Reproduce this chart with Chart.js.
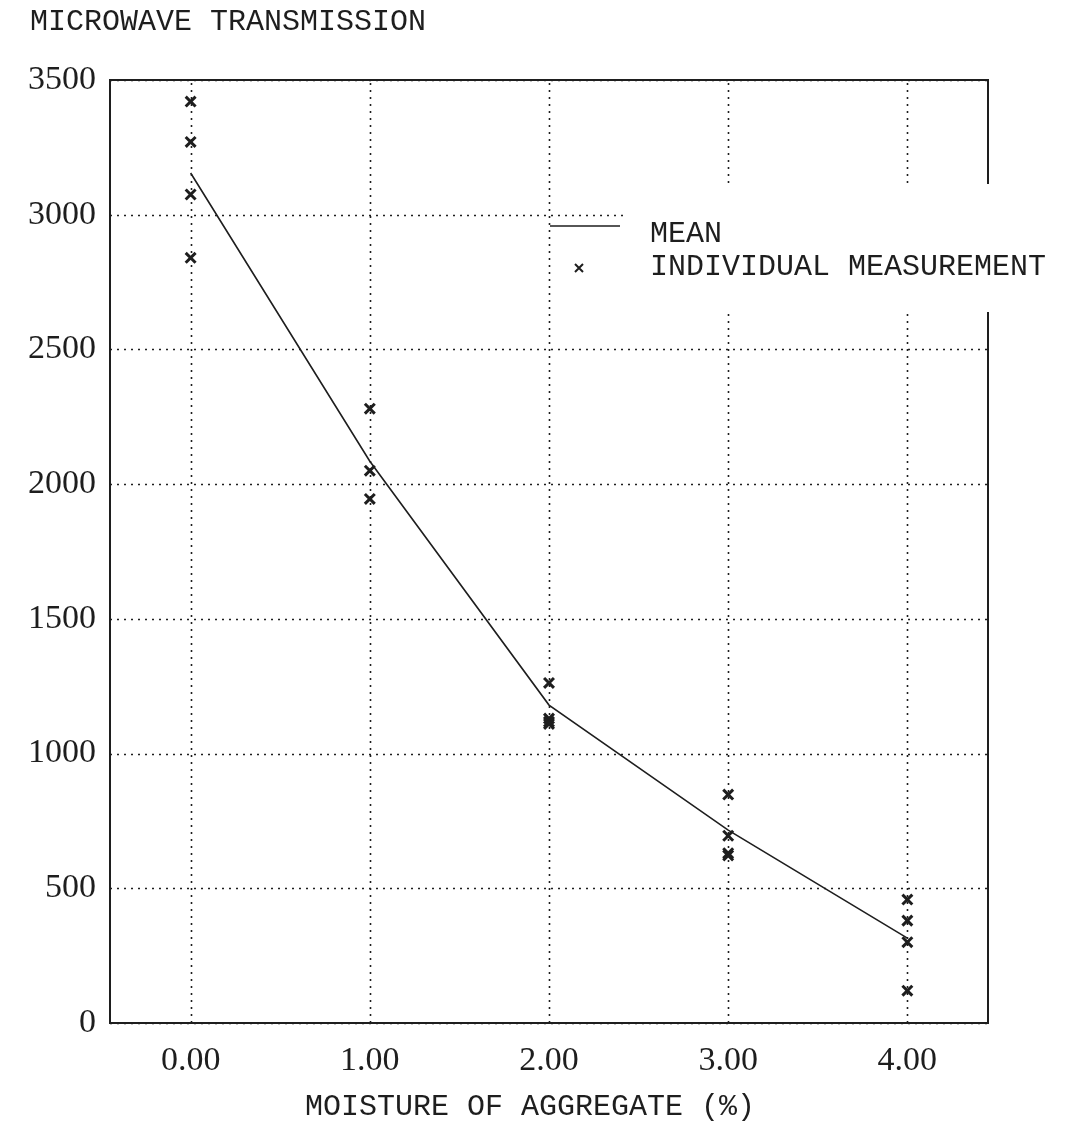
<!DOCTYPE html>
<html>
<head>
<meta charset="utf-8">
<script src="https://cdn.jsdelivr.net/npm/chart.js@4"></script>
<style>
  body { margin: 0; background: #fff; }
  canvas { display: block; }
</style>
</head>
<body>
<canvas id="chart" width="1072" height="1129"></canvas>
<script>
// data:
const moisture = [0, 1, 2, 3, 4];
const meanValues = [3155, 2085, 1180, 716, 315];
const measurements = [
    [3420, 3270, 3075, 2840],
    [2280, 2050, 1945],
    [1262, 1130, 1118, 1110],
    [848, 695, 630, 622],
    [458, 380, 300, 120]
];
const yTicks = [0, 500, 1000, 1500, 2000, 2500, 3000, 3500];

const monoFont = '"Liberation Mono", "DejaVu Sans Mono", monospace';
const serifFont = '"Liberation Serif", "DejaVu Serif", serif';
const ink = '#1e1e1e';

// points for the scatter + mean line
const meanPoints = moisture.map((m, i) => ({ x: m, y: meanValues[i] }));
const measurePoints = [];
moisture.forEach((m, i) => {
    measurements[i].forEach(v => measurePoints.push({ x: m, y: v }));
});

// dotted grid, taken from the scales' own ticks
const dottedGrid = {
    id: 'dottedGrid',
    beforeDatasetsDraw(chart) {
        const ctx = chart.ctx;
        const area = chart.chartArea;
        const xs = chart.scales.x;
        const ys = chart.scales.y;
        ctx.save();
        ctx.strokeStyle = ink;
        ctx.lineWidth = 1.6;
        ctx.setLineDash([2, 5]);
        xs.ticks.forEach(t => {
            const px = Math.round(xs.getPixelForValue(t.value)) + 0.5;
            ctx.beginPath();
            ctx.moveTo(px, area.bottom);
            ctx.lineTo(px, area.top);
            ctx.stroke();
        });
        ys.ticks.forEach(t => {
            const py = Math.round(ys.getPixelForValue(t.value)) + 0.5;
            ctx.beginPath();
            ctx.moveTo(area.left, py);
            ctx.lineTo(area.right, py);
            ctx.stroke();
        });
        ctx.restore();
    }
};

// frame, title, axis label and the boxed legend
const decorPlugin = {
    id: 'decor',
    afterDraw(chart) {
        const ctx = chart.ctx;
        const area = chart.chartArea;
        ctx.save();

        // frame round the plot
        ctx.strokeStyle = ink;
        ctx.lineWidth = 2;
        ctx.setLineDash([]);
        ctx.strokeRect(area.left, area.top, area.right - area.left, area.bottom - area.top);

        // legend (white box covers grid + frame)
        ctx.fillStyle = '#fff';
        ctx.fillRect(625, 184, 447, 128);
        ctx.strokeStyle = ink;
        ctx.lineWidth = 1.5;
        ctx.beginPath();
        ctx.moveTo(550, 226);
        ctx.lineTo(620, 226);
        ctx.stroke();

        ctx.lineWidth = 2;
        ctx.beginPath();
        ctx.moveTo(575, 264); ctx.lineTo(583, 272);
        ctx.moveTo(583, 264); ctx.lineTo(575, 272);
        ctx.stroke();

        ctx.fillStyle = ink;
        ctx.font = '30px ' + monoFont;
        ctx.textAlign = 'left';
        ctx.textBaseline = 'middle';
        ctx.fillText('MEAN', 650, 234);
        ctx.fillText('INDIVIDUAL MEASUREMENT', 650, 267);

        // title + x label
        ctx.fillText('MICROWAVE TRANSMISSION', 30, 22);
        ctx.textAlign = 'center';
        ctx.fillText('MOISTURE OF AGGREGATE (%)', 530, 1107);
        ctx.restore();
    }
};

const ctx = document.getElementById('chart');
new Chart(ctx, {
    type: 'scatter',
    data: {
        datasets: [
            {
                type: 'line',
                label: 'MEAN',
                data: meanPoints,
                borderColor: ink,
                borderWidth: 1.6,
                pointRadius: 0,
                tension: 0,
                fill: false
            },
            {
                label: 'INDIVIDUAL MEASUREMENT',
                data: measurePoints,
                pointStyle: 'crossRot',
                pointRadius: 7,
                borderColor: ink,
                borderWidth: 3,
                backgroundColor: ink
            }
        ]
    },
    plugins: [dottedGrid, decorPlugin],
    options: {
        responsive: false,
        animation: false,
        layout: { padding: { top: 80, right: 84, left: 0, bottom: 0 } },
        plugins: {
            legend: { display: false },
            tooltip: { enabled: false }
        },
        scales: {
            x: {
                type: 'linear',
                min: -0.45,
                max: 4.45,
                afterFit: (scale) => { scale.height = 106; },
                border: { display: false },
                grid: { display: false, drawTicks: false },
                ticks: {
                    stepSize: 1,
                    includeBounds: false,
                    padding: 18,
                    color: ink,
                    font: { family: serifFont, size: 34 },
                    callback: (v) => Number(v).toFixed(2)
                }
            },
            y: {
                min: 0,
                max: 3500,
                afterFit: (scale) => { scale.width = 110; },
                afterBuildTicks: (scale) => { scale.ticks = yTicks.map(v => ({ value: v })); },
                border: { display: false },
                grid: { display: false, drawTicks: false },
                ticks: {
                    padding: 14,
                    color: ink,
                    font: { family: serifFont, size: 34 },
                    callback: (v) => String(v)
                }
            }
        }
    }
});
</script>
</body>
</html>
